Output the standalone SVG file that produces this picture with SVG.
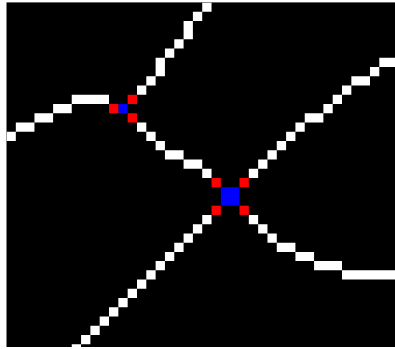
<svg xmlns="http://www.w3.org/2000/svg" width="395" height="349" viewBox="0 0 395 349">
<defs>
<style>
.px{fill:#ffffff}
.red{fill:#ff0000}
.blue{fill:#0000ff}
</style>
<clipPath id="clip"><rect x="6.5" y="2.4" width="388.5" height="344.6"/></clipPath>
</defs>
<rect x="0" y="0" width="395" height="349" fill="#ffffff"/>
<rect x="6.5" y="2.4" width="388.5" height="344.6" fill="#000000"/>
<g clip-path="url(#clip)">
<g transform="translate(6.5 2.4) scale(9.32 9.24)">
<g id="connectors">
<path id="edge-left" class="px" d="M0 14h1v1h-1z M1 13h2v1h-2z M3 12h2v1h-2z M5 11h2v1h-2z M7 10h4v1h-4z"/>
<path id="edge-top" class="px" d="M14 9h1v1h-1z M15 8h1v1h-1z M16 6h1v2h-1z M17 5h1v1h-1z M18 4h1v1h-1z M19 2h1v2h-1z M20 1h1v1h-1z M21 0h1v1h-1z"/>
<path id="edge-middle" class="px" d="M14 13h1v1h-1z M15 14h1v1h-1z M16 15h1v1h-1z M17 16h2v1h-2z M19 17h2v1h-2z M21 18h1v1h-1z"/>
<path id="edge-upright" class="px" d="M26 18h1v1h-1z M27 17h1v1h-1z M28 16h1v1h-1z M29 15h1v1h-1z M30 14h1v1h-1z M31 13h1v1h-1z M32 12h2v1h-2z M34 11h1v1h-1z M35 10h1v1h-1z M36 9h1v1h-1z M37 8h2v1h-2z M39 7h1v1h-1z M40 6h2v1h-2z"/>
<path id="edge-downleft" class="px" d="M21 23h1v1h-1z M20 24h1v1h-1z M19 25h1v1h-1z M18 26h1v1h-1z M17 27h1v1h-1z M16 28h1v1h-1z M15 29h1v1h-1z M14 30h1v1h-1z M13 31h1v1h-1z M12 32h1v1h-1z M11 33h1v1h-1z M10 34h1v1h-1z M9 35h1v1h-1z M8 36h1v1h-1z M7 37h1v1h-1z"/>
<path id="edge-downright" class="px" d="M26 23h1v1h-1z M27 24h1v1h-1z M28 25h1v1h-1z M29 26h2v1h-2z M31 27h2v1h-2z M33 28h3v1h-3z M36 29h6v1h-6z"/>
</g>
<g id="node-small">
<rect class="blue" x="12" y="11" width="1" height="1"/>
<rect class="red" x="11" y="11" width="1" height="1"/>
<rect class="red" x="13" y="10" width="1" height="1"/>
<rect class="red" x="13" y="12" width="1" height="1"/>
</g>
<g id="node-large">
<rect class="blue" x="23" y="20" width="2" height="2"/>
<rect class="red" x="22" y="19" width="1" height="1"/>
<rect class="red" x="25" y="19" width="1" height="1"/>
<rect class="red" x="22" y="22" width="1" height="1"/>
<rect class="red" x="25" y="22" width="1" height="1"/>
</g>
</g>
</g>
</svg>
